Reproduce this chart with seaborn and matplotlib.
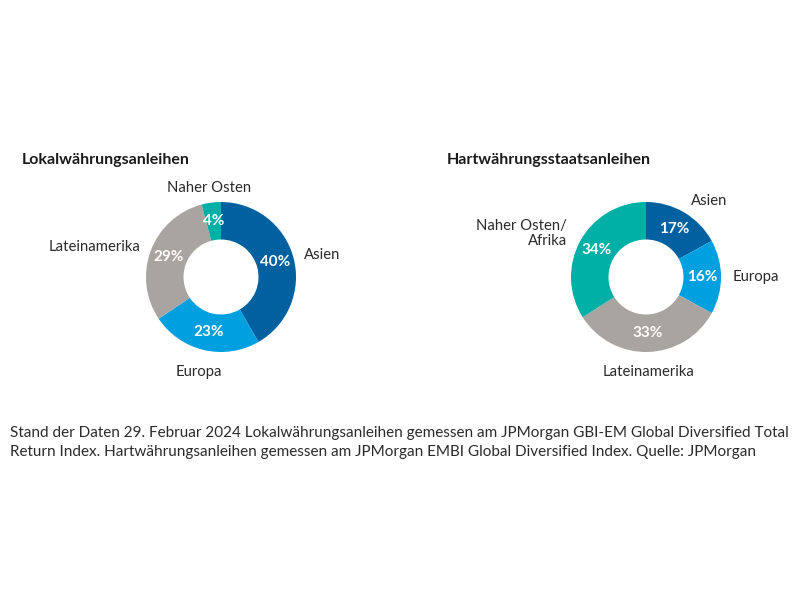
import matplotlib
matplotlib.use('Agg')

import numpy as np
import matplotlib.pyplot as plt
import seaborn as sns

# Data
local_labels = ['Asien', 'Europa', 'Lateinamerika', 'Naher Osten']
local_values = [40, 23, 29, 4]
local_colors = ['#0060a0', '#009fdf', '#a8a49f', '#00b0a6']

hard_labels = ['Asien', 'Europa', 'Lateinamerika', 'Naher Osten/\nAfrika']
hard_values = [17, 16, 33, 34]
hard_colors = ['#0060a0', '#009fdf', '#a8a49f', '#00b0a6']

footnote = ("Stand der Daten 29. Februar 2024 Lokalwährungsanleihen gemessen am JPMorgan GBI-EM Global Diversified Total\n"
            "Return Index. Hartwährungsanleihen gemessen am JPMorgan EMBI Global Diversified Index. Quelle: JPMorgan")

sns.set_theme(style='white')
plt.rcParams['font.family'] = ['Lato', 'DejaVu Sans']
TEXT = '#2b2b2b'


def donut(ax, values, labels, colors, label_dist):
    wedges, _ = ax.pie(values, colors=colors, startangle=90, counterclock=False,
                       radius=1, wedgeprops=dict(width=0.5, edgecolor='none'))
    for w, v, lab, d in zip(wedges, values, labels, label_dist):
        mid = np.deg2rad((w.theta1 + w.theta2) / 2)
        c, s = np.cos(mid), np.sin(mid)
        ax.text(0.75 * c, 0.75 * s, f'{v}%', ha='center', va='center',
                color='white', fontsize=11, fontweight='bold')
        if abs(c) < 0.3:
            ha = 'center'
        elif c > 0:
            ha = 'left'
        else:
            ha = 'right'
        ax.text(d * c, d * s, lab, ha=ha, va='center', color=TEXT,
                fontsize=10.7, linespacing=1.15)
    ax.set_xlim(-1, 1)
    ax.set_ylim(-1, 1)
    ax.set_aspect('equal')
    ax.axis('off')


fig = plt.figure(figsize=(8, 6), dpi=100)
W, H = 800, 600
r = 75

ax1 = fig.add_axes([(221 - r) / W, 1 - (277 + r) / H, 2 * r / W, 2 * r / H])
donut(ax1, local_values, local_labels, local_colors, [1.15, 1.3, 1.15, 1.2])

ax2 = fig.add_axes([(646 - r) / W, 1 - (277 + r) / H, 2 * r / W, 2 * r / H])
donut(ax2, hard_values, hard_labels, hard_colors, [1.18, 1.15, 1.27, 1.2])

fig.text(22 / W, 1 - 160 / H, 'Lokalwährungsanleihen', fontsize=11.5,
         fontweight='bold', color='#1a1a1a', va='center')
fig.text(447 / W, 1 - 160 / H, 'Hartwährungsstaatsanleihen', fontsize=11.5,
         fontweight='bold', color='#1a1a1a', va='center')

fig.text(10 / W, 1 - 426 / H, footnote, fontsize=11, color=TEXT,
         va='top', linespacing=1.45)

fig.savefig('out.png', dpi=100)
plt.close(fig)
